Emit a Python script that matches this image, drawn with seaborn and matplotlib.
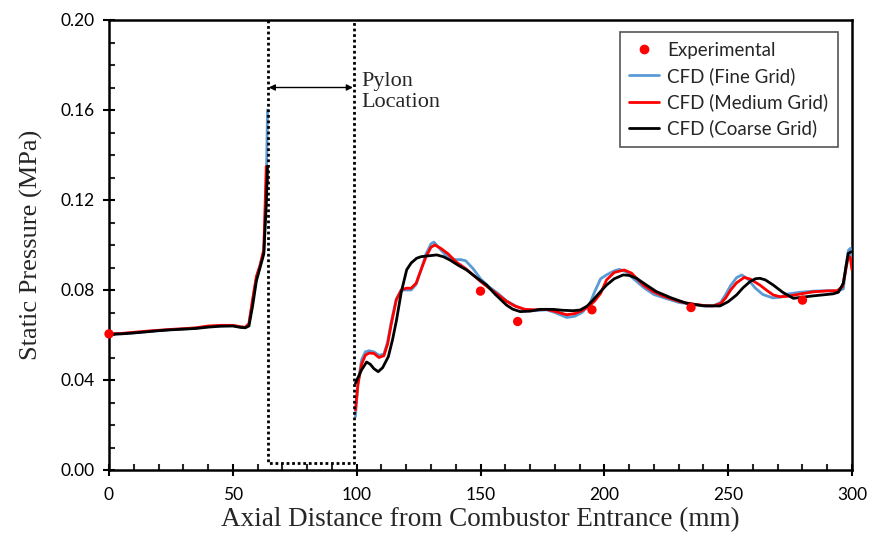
import numpy as np
import pandas as pd
import matplotlib
matplotlib.use("Agg")
import matplotlib.pyplot as plt
from matplotlib.ticker import MultipleLocator, FormatStrFormatter
from matplotlib.lines import Line2D
import seaborn as sns

# ---------------- data ----------------
exp_x = [0, 150, 165, 195, 235, 280]
exp_y = [0.0605, 0.0795, 0.066, 0.0712, 0.0722, 0.0755]

# upstream segment (before pylon)
up_x = [0, 5, 10, 15, 20, 25, 30, 35, 40, 45, 50, 53, 55, 56.5, 58, 59.5, 61, 62.5, 63.5, 64]
up_fine = [0.0604, 0.0606, 0.061, 0.0615, 0.062, 0.0624, 0.0627, 0.063, 0.0637, 0.0641,
           0.0642, 0.0636, 0.0634, 0.065, 0.075, 0.085, 0.091, 0.097, 0.125, 0.160]
up_medium = [0.0604, 0.0607, 0.0612, 0.0617, 0.0621, 0.0625, 0.0628, 0.0632, 0.0640, 0.0643,
             0.0643, 0.0637, 0.0634, 0.065, 0.076, 0.086, 0.091, 0.098, 0.135, 0.128]
up_coarse = [0.0603, 0.0605, 0.0609, 0.0614, 0.0619, 0.0623, 0.0626, 0.0629, 0.0635, 0.0639,
             0.0640, 0.0634, 0.0632, 0.064, 0.073, 0.084, 0.090, 0.096, 0.118, 0.135]

# downstream segment (after pylon)
fine_x = [99.5, 100.5, 102, 103.5, 105, 107, 109, 111, 112.5, 114, 116, 118, 120, 122, 124, 126,
          128, 130, 131.2, 133, 136, 139.5, 142, 144, 147, 150, 153, 157, 160.5, 164, 168, 172,
          176.7, 180, 184.8, 188, 191, 194, 196, 198.5, 201, 204, 206, 209, 212, 216, 220, 225,
          230, 236, 241, 244, 247, 249, 251, 253.4, 255.5, 258, 261, 264, 268, 271, 274, 279,
          284.4, 290, 294, 296.5, 297.5, 298.5, 299.3, 300]
fine_y = [0.0237, 0.038, 0.049, 0.0525, 0.0530, 0.0525, 0.051, 0.0515, 0.057, 0.066, 0.0760,
          0.0800, 0.0800, 0.0800, 0.0825, 0.089, 0.0960, 0.1005, 0.1013, 0.0990, 0.0955, 0.0935,
          0.0935, 0.0930, 0.0895, 0.0850, 0.0818, 0.0785, 0.0752, 0.0730, 0.0710, 0.0708, 0.0712,
          0.0700, 0.0678, 0.0683, 0.0700, 0.0735, 0.0790, 0.0850, 0.0868, 0.0885, 0.0892, 0.0880,
          0.0848, 0.0810, 0.0780, 0.0762, 0.0745, 0.0735, 0.0728, 0.0730, 0.0745, 0.0780, 0.0820,
          0.0855, 0.0867, 0.0848, 0.0808, 0.0780, 0.0765, 0.0768, 0.0782, 0.0790, 0.0795, 0.0797,
          0.0795, 0.0805, 0.0900, 0.0975, 0.0985, 0.0930]

medium_x = [99.5, 100.5, 102, 103.5, 105, 107, 109, 111, 112.5, 114, 116, 118, 120, 122, 124,
            126, 128, 130, 131.6, 134, 137, 140, 144, 147, 150, 153, 157, 160.5, 164, 168, 172,
            176.7, 180, 184.8, 188, 191, 194, 196, 198.5, 200.9, 204, 208, 211, 213, 216, 219.7,
            224, 230.5, 236, 241, 244, 247, 249, 251, 253.4, 256.5, 259, 262.8, 266, 268.2, 271,
            274, 279, 284.4, 290, 294, 296.2, 297.5, 298.5, 299.3, 300]
medium_y = [0.0267, 0.038, 0.047, 0.051, 0.052, 0.0518, 0.0500, 0.0508, 0.056, 0.065, 0.0756,
            0.0800, 0.0808, 0.0808, 0.083, 0.089, 0.0948, 0.0990, 0.1000, 0.0985, 0.0960, 0.0926,
            0.0895, 0.0867, 0.0838, 0.0812, 0.0780, 0.0750, 0.0728, 0.0714, 0.0712, 0.0714, 0.0705,
            0.0690, 0.0695, 0.0708, 0.0730, 0.0750, 0.0785, 0.0845, 0.0878, 0.0889, 0.0875, 0.0852,
            0.0820, 0.0793, 0.0772, 0.0748, 0.0737, 0.0730, 0.0729, 0.0740, 0.0765, 0.0800, 0.0832,
            0.0856, 0.0848, 0.0822, 0.0795, 0.0778, 0.0770, 0.0772, 0.0782, 0.0792, 0.0796, 0.0797,
            0.0815, 0.0890, 0.0950, 0.0945, 0.0890]

coarse_x = [99.5, 100.5, 102, 104, 105.5, 107, 108.7, 110.5, 112.8, 114.5, 116.1, 118, 120.2,
            122, 124.2, 126, 128.2, 130, 132.3, 135, 137.7, 141, 144.4, 148, 152.5, 156, 160.5,
            163, 166, 170, 174, 179.4, 183, 187.4, 190.2, 193, 195.5, 198.2, 200.9, 204, 207.6,
            210, 213, 217, 221, 227, 233.2, 240, 246.7, 250, 253.4, 256, 258.8, 261, 262.8, 265,
            268.2, 272, 276.3, 280, 284.4, 288, 292.4, 294.5, 296.5, 297.5, 298.5, 299.8]
coarse_y = [0.0385, 0.041, 0.0445, 0.0480, 0.0470, 0.0450, 0.0437, 0.0455, 0.0504, 0.0580,
            0.0667, 0.0790, 0.0890, 0.0920, 0.0941, 0.0948, 0.0951, 0.0953, 0.0956, 0.0948,
            0.0933, 0.0910, 0.0889, 0.0858, 0.0822, 0.0780, 0.0733, 0.0715, 0.0704, 0.0706,
            0.0714, 0.0714, 0.0710, 0.0708, 0.0711, 0.0728, 0.0756, 0.0790, 0.0822, 0.0850,
            0.0867, 0.0865, 0.0852, 0.0822, 0.0793, 0.0765, 0.0741, 0.0730, 0.0729, 0.0748,
            0.0778, 0.0810, 0.0837, 0.0850, 0.0852, 0.0845, 0.0822, 0.0790, 0.0763, 0.0768,
            0.0774, 0.0778, 0.0783, 0.0790, 0.0830, 0.0900, 0.0963, 0.0970]

series_names = ["CFD (Fine Grid)", "CFD (Medium Grid)", "CFD (Coarse Grid)"]
colors = {"CFD (Fine Grid)": "#5B9BD5", "CFD (Medium Grid)": "#FF0000", "CFD (Coarse Grid)": "#000000"}

pylon_start, pylon_end = 64, 99
x_ticks = [0, 50, 100, 150, 200, 250, 300]
y_ticks = [0.00, 0.04, 0.08, 0.12, 0.16, 0.20]

# ---------------- build long-form table ----------------
frames = []
for name, ux, uy, dx, dy in [
    (series_names[0], up_x, up_fine, fine_x, fine_y),
    (series_names[1], up_x, up_medium, medium_x, medium_y),
    (series_names[2], up_x, up_coarse, coarse_x, coarse_y),
]:
    frames.append(pd.DataFrame({"x": ux, "y": uy, "series": name, "seg": name + "_up"}))
    frames.append(pd.DataFrame({"x": dx, "y": dy, "series": name, "seg": name + "_down"}))
df = pd.concat(frames, ignore_index=True)
exp_df = pd.DataFrame({"x": exp_x, "y": exp_y})

# ---------------- plot ----------------
sns.set_style("ticks")
plt.rcParams["font.family"] = ["Lato", "DejaVu Sans"]

fig = plt.figure(figsize=(8.69, 5.39), dpi=100)
ax = fig.add_axes([109 / 869, 1 - 470 / 539, 743 / 869, 450 / 539])

sns.lineplot(data=df, x="x", y="y", hue="series", units="seg", estimator=None,
             palette=colors, hue_order=series_names, linewidth=2, sort=False,
             legend=False, ax=ax, zorder=3)
sns.scatterplot(data=exp_df, x="x", y="y", color="#FF0000", s=45, edgecolor="none",
                ax=ax, zorder=5, clip_on=False)

# pylon box
box_bottom = 0.003
ax.plot([pylon_start, pylon_start, pylon_end, pylon_end],
        [0.2, box_bottom, box_bottom, 0.2], color="black", linestyle=(0, (1, 1)),
        linewidth=2, zorder=4, clip_on=False)
ax.annotate("", xy=(pylon_start + 0.5, 0.17), xytext=(pylon_end - 0.5, 0.17),
            arrowprops=dict(arrowstyle="<|-|>", color="black", lw=1, mutation_scale=9,
                            shrinkA=0, shrinkB=0))
ax.text(102, 0.1680, "Pylon\nLocation", family="Liberation Serif", fontsize=16,
        va="center", ha="left", linespacing=1.15)

ax.set_xlim(0, 300)
ax.set_ylim(0, 0.2)
ax.set_xticks(x_ticks)
ax.set_yticks(y_ticks)
ax.xaxis.set_minor_locator(MultipleLocator(10))
ax.yaxis.set_minor_locator(MultipleLocator(0.01))
ax.yaxis.set_major_formatter(FormatStrFormatter("%.2f"))
ax.tick_params(which="major", direction="inout", length=9, width=1.5, labelsize=12.5,
               colors="black")
ax.tick_params(axis="x", which="major", pad=8)
ax.tick_params(axis="y", which="major", pad=6)
ax.tick_params(which="minor", direction="in", length=4, width=1.5)
for s in ax.spines.values():
    s.set_linewidth(1.8)
    s.set_color("black")

ax.set_xlabel("Axial Distance from Combustor Entrance (mm)", family="Liberation Serif",
              fontsize=19.5, labelpad=3)
ax.set_ylabel("Static Pressure (MPa)", family="Liberation Serif", fontsize=19, labelpad=12)

handles = [Line2D([], [], marker="o", color="#FF0000", linestyle="none", markersize=6),
           Line2D([], [], color=colors[series_names[0]], linewidth=2),
           Line2D([], [], color=colors[series_names[1]], linewidth=2),
           Line2D([], [], color=colors[series_names[2]], linewidth=2)]
leg = ax.legend(handles, ["Experimental"] + series_names, loc="upper right",
                bbox_to_anchor=(0.981, 0.973), frameon=True, fancybox=False,
                edgecolor="#555555", framealpha=1, fontsize=13.5, handlelength=1.6,
                handletextpad=0.45, labelspacing=0.45, borderpad=0.5, borderaxespad=0)
leg.get_frame().set_linewidth(1.2)

fig.savefig("out.png", dpi=100)
